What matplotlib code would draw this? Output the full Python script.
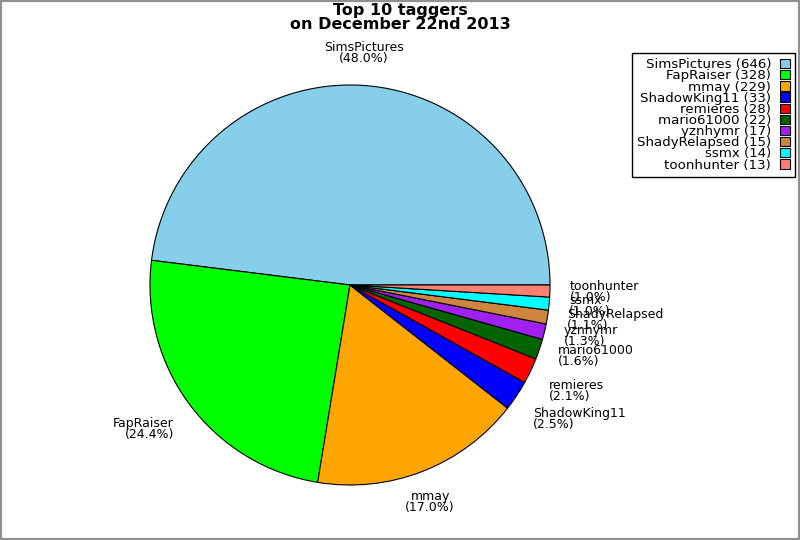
import numpy as np
import matplotlib
matplotlib.use("Agg")
import matplotlib.pyplot as plt
from matplotlib.patches import Rectangle

names = ["SimsPictures", "FapRaiser", "mmay", "ShadowKing11", "remieres",
         "mario61000", "yznhymr", "ShadyRelapsed", "ssmx", "toonhunter"]
counts = [646, 328, 229, 33, 28, 22, 17, 15, 14, 13]
colors = ["#87ceeb", "#00ff00", "#ffa500", "#0000ff", "#ff0000",
          "#006400", "#a020f0", "#cd853f", "#00ffff", "#fa8072"]

total = float(sum(counts))
labels = ["%s\n(%.1f%%)" % (n, c * 100.0 / total) for n, c in zip(names, counts)]

fig = plt.figure(figsize=(8, 5.4), dpi=100)
ax = fig.add_axes([0, 0, 1, 1])
wedges, texts = ax.pie(counts, labels=labels, colors=colors, startangle=0,
                       counterclock=True, labeldistance=1.1,
                       wedgeprops=dict(edgecolor="black", linewidth=0.8),
                       textprops=dict(fontsize=9, linespacing=0.8))
# label alignment like the old chart
for t in texts:
    x, y = t.get_position()
    if abs(x) < 0.5:
        t.set_ha("center")
    elif x > 0:
        t.set_ha("left")
    else:
        t.set_ha("right")
    if y > 0.5:
        t.set_va("bottom")
    elif y < -0.4:
        t.set_va("top")
    else:
        t.set_va("center")
    t.set_multialignment(t.get_ha())

ax.set_xlim(-1.75, 2.25)
ax.set_ylim(-1.275, 1.425)
ax.set_aspect("auto")
ax.axis("off")

fig.text(0.5, 0.995, "Top 10 taggers\non December 22nd 2013", ha="center",
         va="top", fontsize=11.5, fontweight="bold", linespacing=0.9)

leg_labels = ["%s (%d)" % (n, c) for n, c in zip(names, counts)]
leg = fig.legend(wedges, leg_labels, loc="upper right",
                 bbox_to_anchor=(795 / 800.0, 1 - 53 / 540.0),
                 markerfirst=False, fontsize=9.6, handlelength=0.7,
                 handleheight=0.7, handletextpad=0.7, labelspacing=-0.14,
                 borderpad=0.4, borderaxespad=0.0, fancybox=False,
                 framealpha=1)
leg.get_frame().set_edgecolor("black")
leg.get_frame().set_linewidth(1.0)
for txt in leg.get_texts():
    txt.set_ha("right")

fig.patches.append(Rectangle((0, 0), 1, 1, transform=fig.transFigure,
                             fill=False, edgecolor="#909090", linewidth=3))

fig.savefig("out.png", dpi=100)
